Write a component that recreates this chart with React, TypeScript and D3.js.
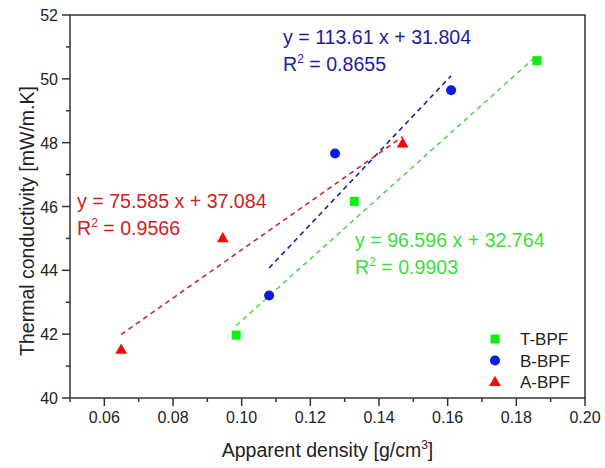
import React from "react";
import * as d3 from "d3";

const seriesNames = ["T-BPF", "B-BPF", "A-BPF"];
const tDensity = [0.0984, 0.1328, 0.186];
const tConductivity = [41.97, 46.16, 50.57];
const bDensity = [0.108, 0.1272, 0.161];
const bConductivity = [43.21, 47.66, 49.64];
const aDensity = [0.0649, 0.0945, 0.1469];
const aConductivity = [41.51, 45.0, 47.97];
const slopes = [96.596, 113.61, 75.585];
const intercepts = [32.764, 31.804, 37.084];
const rSquared = ["0.9903", "0.8655", "0.9566"];
const xTicks = [0.06, 0.08, 0.1, 0.12, 0.14, 0.16, 0.18, 0.2];
const xMinorTicks = [0.05, 0.07, 0.09, 0.11, 0.13, 0.15, 0.17, 0.19];
const yTicks = [40, 42, 44, 46, 48, 50, 52];
const yMinorTicks = [41, 43, 45, 47, 49, 51];

const W = 605, H = 468;
const L = 70, R = 585, T = 15, B = 398;
const FONT = "'Liberation Sans', Arial, sans-serif";

const markerColors = ["#0ef00e", "#0a1be6", "#f00a0a"];
const lineColors = ["#55d655", "#1f1fa3", "#c42a3a"];
const textColors = ["#3fdc3f", "#1c1ca0", "#cc2222"];
const eqPos = [
  { x: 355, y: 247 },
  { x: 283, y: 44 },
  { x: 77, y: 208 },
];

export default function App() {
  const x = d3.scaleLinear().domain([0.05, 0.2]).range([L, R]);
  const y = d3.scaleLinear().domain([40, 52]).range([B, T]);
  const xs = [tDensity, bDensity, aDensity];
  const ys = [tConductivity, bConductivity, aConductivity];
  const line = d3.line<[number, number]>().x((d) => x(d[0])).y((d) => y(d[1]));

  const marker = (i: number, cx: number, cy: number, key: string) => {
    if (i === 0)
      return <rect key={key} x={cx - 4.5} y={cy - 4.5} width={9} height={9} fill={markerColors[0]} />;
    if (i === 1) return <circle key={key} cx={cx} cy={cy} r={5} fill={markerColors[1]} />;
    const s = d3.symbol().type(d3.symbolTriangle).size(60)();
    return <path key={key} d={s || ""} transform={`translate(${cx},${cy + 0.5})`} fill={markerColors[2]} />;
  };

  return (
    <svg width={W} height={H} style={{ position: "absolute", left: 0, top: 0, background: "#fff" }} fontFamily={FONT}>
      <rect width={W} height={H} fill="#fff" />
      {xs.map((xv, i) => {
        const x0 = d3.min(xv)!, x1 = d3.max(xv)!;
        const pts: [number, number][] = [
          [x0, slopes[i] * x0 + intercepts[i]],
          [x1, slopes[i] * x1 + intercepts[i]],
        ];
        return (
          <path key={"tl" + i} d={line(pts) || ""} stroke={lineColors[i]} strokeWidth={1.6} strokeDasharray="5,4" fill="none" />
        );
      })}
      {xs.map((xv, i) => xv.map((v, j) => marker(i, x(v), y(ys[i][j]), `m${i}-${j}`)))}
      {eqPos.map((p, i) => (
        <g key={"eq" + i} fill={textColors[i]} fontSize={19.6}>
          <text x={p.x} y={p.y}>{`y = ${slopes[i]} x + ${intercepts[i].toFixed(3)}`}</text>
          <text x={p.x} y={p.y + 27}>
            R<tspan fontSize={12} dy={-8}>2</tspan>
            <tspan dy={8}>{` = ${rSquared[i]}`}</tspan>
          </text>
        </g>
      ))}
      <rect x={L} y={T} width={R - L} height={B - T} fill="none" stroke="#333" strokeWidth={1.5} />
      {xTicks.map((t) => (
        <g key={"xt" + t}>
          <line x1={x(t)} x2={x(t)} y1={B} y2={B + 8} stroke="#333" strokeWidth={1.5} />
          <text x={x(t)} y={423} textAnchor="middle" fontSize={16} fill="#222">{d3.format(".2f")(t)}</text>
        </g>
      ))}
      {xMinorTicks.map((t) => (
        <line key={"xm" + t} x1={x(t)} x2={x(t)} y1={B} y2={B + 4} stroke="#333" strokeWidth={1.5} />
      ))}
      {yTicks.map((t) => (
        <g key={"yt" + t}>
          <line x1={L - 8} x2={L} y1={y(t)} y2={y(t)} stroke="#333" strokeWidth={1.5} />
          <text x={58} y={y(t) + 6} textAnchor="end" fontSize={16} fill="#222">{t}</text>
        </g>
      ))}
      {yMinorTicks.map((t) => (
        <line key={"ym" + t} x1={L - 4} x2={L} y1={y(t)} y2={y(t)} stroke="#333" strokeWidth={1.5} />
      ))}
      <text x={(L + R) / 2} y={457} textAnchor="middle" fontSize={19.5} fill="#222">
        Apparent density [g/cm<tspan fontSize={12} dy={-8}>3</tspan><tspan dy={8}>]</tspan>
      </text>
      <text transform={`translate(34,221) rotate(-90)`} textAnchor="middle" fontSize={19.5} fill="#222">
        Thermal conductivity [mW/m.K]
      </text>
      {seriesNames.map((n, i) => (
        <g key={"lg" + i}>
          {marker(i, 495, 339 + i * 21.5, "lm" + i)}
          <text x={520} y={345 + i * 21.5} fontSize={17} fill="#222">{n}</text>
        </g>
      ))}
    </svg>
  );
}
